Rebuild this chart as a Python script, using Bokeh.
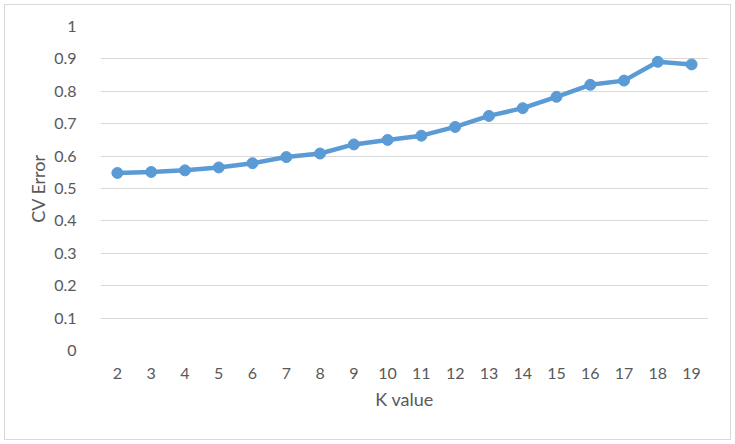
from bokeh.plotting import figure
from bokeh.models import Range1d, FactorRange, FixedTicker
from bokeh.embed import file_html
from bokeh.resources import INLINE

k_values = [str(k) for k in range(2, 20)]
cv_error = [0.548, 0.551, 0.556, 0.565, 0.578, 0.597, 0.608, 0.636, 0.650,
            0.663, 0.690, 0.724, 0.748, 0.783, 0.820, 0.833, 0.891, 0.883]
y_ticks = [0, 0.1, 0.2, 0.3, 0.4, 0.5, 0.6, 0.7, 0.8, 0.9, 1.0]

TEXT = "#595959"
GRID = "#d9d9d9"
BLUE = "#5B9BD5"
FONT = "Lato"

p = figure(width=725, height=434, output_backend="svg", toolbar_location=None,
           x_range=FactorRange(factors=k_values), y_range=Range1d(0, 1),
           min_border_left=95, min_border_right=22, min_border_top=21, min_border_bottom=89,
           margin=(5, 5, 5, 5),
           styles={"outline": "1px solid #d9d9d9", "outline-offset": "0px"})
p.outline_line_color = None
p.background_fill_color = "white"
p.border_fill_color = "white"

p.line(k_values, cv_error, line_color=BLUE, line_width=4.5)
p.scatter(k_values, cv_error, size=11, fill_color=BLUE, line_color=BLUE)

p.xgrid.grid_line_color = None
p.ygrid.grid_line_color = GRID
p.ygrid.grid_line_width = 1
p.yaxis.ticker = FixedTicker(ticks=y_ticks)
p.yaxis.major_label_overrides = {0: "0", 1.0: "1"}

for ax in (p.xaxis[0], p.yaxis[0]):
    ax.axis_line_color = None
    ax.major_tick_line_color = None
    ax.minor_tick_line_color = None
    ax.major_label_text_color = TEXT
    ax.major_label_text_font = FONT
    ax.major_label_text_font_size = "16px"
    ax.axis_label_text_color = TEXT
    ax.axis_label_text_font = FONT
    ax.axis_label_text_font_size = "18px"
    ax.axis_label_text_font_style = "normal"

p.xaxis.axis_label = "K value"
p.yaxis.axis_label = "CV Error"
p.xaxis.major_label_standoff = 11
p.xaxis.axis_label_standoff = 6
p.yaxis.major_label_standoff = 18
p.yaxis.axis_label_standoff = 2

open("out.html", "w").write(file_html(p, INLINE))
